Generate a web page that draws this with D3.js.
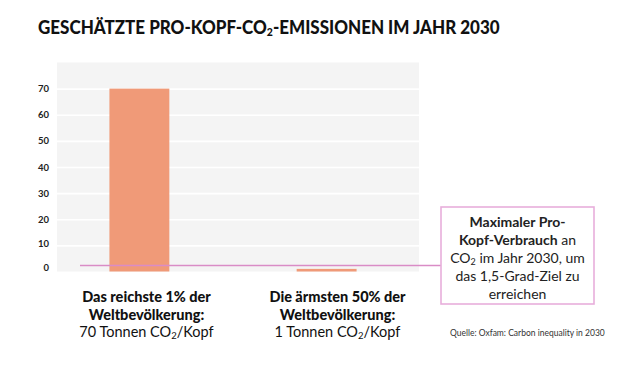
<!DOCTYPE html>
<html>
<head>
<meta charset="utf-8">
<script src="https://cdn.jsdelivr.net/npm/d3@7"></script>
<style>
  body { margin: 0; background: #fff; }
  svg { font-family: Lato, "Open Sans", sans-serif; }
</style>
</head>
<body>
<svg id="chart" width="640" height="365"></svg>
<script>
// data
var categories = ["Das reichste 1% der Weltbevölkerung", "Die ärmsten 50% der Weltbevölkerung"];
var values = [70, 1];
var labelFirst = ["Das reichste 1% der", "Die ärmsten 50% der"];
var labelSecond = ["Weltbevölkerung:", "Weltbevölkerung:"];
var yTicks = [0, 10, 20, 30, 40, 50, 60, 70];
var targetValue = 2.3;
var noteBold = ["Maximaler Pro-", "Kopf-Verbrauch"];
var noteRest = ["an", "im Jahr 2030, um", "das 1,5-Grad-Ziel zu", "erreichen"];
var source = "Quelle: Oxfam: Carbon inequality in 2030";

var data = categories.map((c, i) => ({cat: c, value: values[i]}));

var svg = d3.select("#chart");

var plot = {left: 57, right: 419, top: 62.5, bottom: 271.5};

var x = d3.scaleBand()
  .domain(categories)
  .range([plot.left, 409])
  .paddingInner(0.68)
  .paddingOuter(0.28);

var xLabel = d3.scalePoint()
  .domain(categories)
  .range([146.5, 337.5]);

var y = d3.scaleLinear()
  .domain([0, 80])
  .range([plot.bottom, plot.top]);

// title (squeezed horizontally to the reference width)
var title = svg.append("text")
  .attr("x", 0)
  .attr("y", 0)
  .attr("font-size", 19.5)
  .attr("font-weight", 900)
  .attr("fill", "#111")
  .call(t => {
    t.append("tspan").text("GESCHÄTZTE PRO-KOPF-CO");
    t.append("tspan").attr("font-size", 12).attr("dy", 2).text("2");
    t.append("tspan").attr("dy", -2).text("-EMISSIONEN IM JAHR 2030");
  });
var tw = title.node().getComputedTextLength();
title.attr("transform", "translate(38,34) scale(" + (462 / tw) + ",1)");

// background
svg.append("rect")
  .attr("x", plot.left)
  .attr("y", plot.top)
  .attr("width", plot.right - plot.left)
  .attr("height", plot.bottom - plot.top)
  .attr("fill", "#f4f4f4");

// grid + tick labels
svg.append("g")
  .attr("class", "y-axis")
  .attr("transform", "translate(" + plot.left + ",0)")
  .call(d3.axisLeft(y).tickValues(yTicks).tickSize(-(plot.right - plot.left)).tickPadding(8))
  .call(g => g.select(".domain").remove())
  .call(g => g.selectAll("line")
    .attr("stroke", "#fff")
    .attr("stroke-width", 1.6)
    .attr("opacity", d => d === 0 ? 0 : 1))
  .call(g => g.selectAll("text")
    .attr("fill", "#222")
    .attr("font-size", 9.5)
    .attr("font-weight", 700)
    .attr("font-family", "Lato, sans-serif")
    .attr("dy", d => d === 0 ? "-0.15em" : d === 10 ? "0.12em" : "0.32em"));

// bars
svg.selectAll(".bar")
  .data(data)
  .enter().append("rect")
  .attr("class", "bar")
  .attr("x", d => x(d.cat))
  .attr("width", x.bandwidth())
  .attr("y", d => y(d.value))
  .attr("height", d => y(0) - y(d.value))
  .attr("fill", "#f09a78");

// annotation box
var box = {x: 441, y: 207, w: 153, h: 97};

svg.append("line")
  .attr("x1", 80)
  .attr("x2", box.x)
  .attr("y1", y(targetValue))
  .attr("y2", y(targetValue))
  .attr("stroke", "#d98cc6")
  .attr("stroke-width", 1.6);

svg.append("rect")
  .attr("x", box.x)
  .attr("y", box.y)
  .attr("width", box.w)
  .attr("height", box.h)
  .attr("fill", "#fff")
  .attr("stroke", "#e8aedb")
  .attr("stroke-width", 1.6);

var cx = box.x + box.w / 2;
var note = svg.append("g")
  .attr("font-size", 14)
  .attr("fill", "#222")
  .attr("text-anchor", "middle");

note.append("text").attr("x", cx).attr("y", 227)
  .attr("font-weight", 700).text(noteBold[0]);
note.append("text").attr("x", cx).attr("y", 245)
  .call(t => {
    t.append("tspan").attr("font-weight", 700).text(noteBold[1]);
    t.append("tspan").text(" " + noteRest[0]);
  });
note.append("text").attr("x", cx).attr("y", 263)
  .call(t => {
    t.append("tspan").text("CO");
    t.append("tspan").attr("font-size", 9).attr("dy", 1.5).text("2");
    t.append("tspan").attr("dy", -1.5).text(" " + noteRest[1]);
  });
note.append("text").attr("x", cx).attr("y", 281).text(noteRest[2]);
note.append("text").attr("x", cx).attr("y", 298.5).text(noteRest[3]);

// category labels
var labels = svg.selectAll(".label")
  .data(data)
  .enter().append("g")
  .attr("class", "label")
  .attr("text-anchor", "middle")
  .attr("fill", "#111")
  .attr("font-size", 14.5);

labels.append("text")
  .attr("x", d => xLabel(d.cat))
  .attr("y", 302)
  .attr("font-weight", 900)
  .text((d, i) => labelFirst[i]);

labels.append("text")
  .attr("x", d => xLabel(d.cat))
  .attr("y", 319.5)
  .attr("font-weight", 900)
  .text((d, i) => labelSecond[i]);

labels.append("text")
  .attr("x", d => xLabel(d.cat))
  .attr("y", 337)
  .call(t => {
    t.append("tspan").text(d => d.value + " Tonnen CO");
    t.append("tspan").attr("font-size", 9.5).attr("dy", 1.5).text("2");
    t.append("tspan").attr("dy", -1.5).text("/Kopf");
  });

// source
svg.append("text")
  .attr("x", 450)
  .attr("y", 335.5)
  .attr("font-size", 8.5)
  .attr("fill", "#333")
  .text(source);
</script>
</body>
</html>
